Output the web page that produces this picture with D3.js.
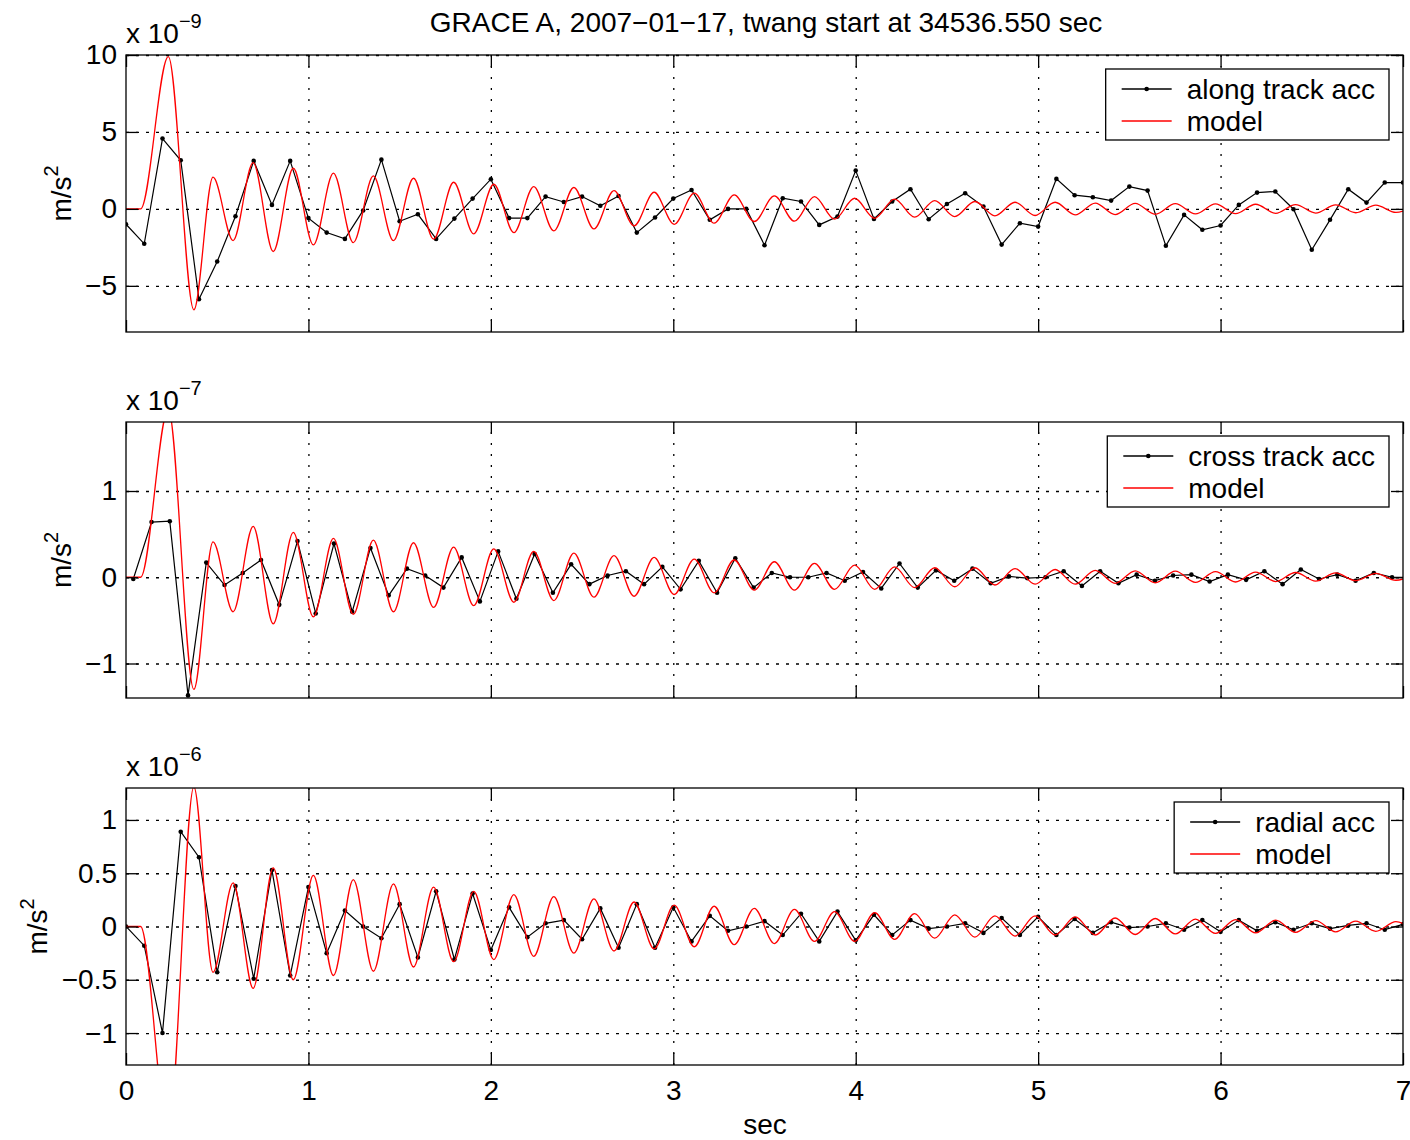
<!DOCTYPE html>
<html>
<head>
<meta charset="utf-8">
<script src="https://cdn.jsdelivr.net/npm/d3@7"></script>
<style>
  body { margin: 0; background: #fff; }
  text { font-family: "Liberation Sans", Arial, Helvetica, sans-serif; fill: #000; }
</style>
</head>
<body>
<svg id="chart" width="1410" height="1140"></svg>
<script>
// sample times of the accelerometer data (sec)
let sampleTimes = [0, 0.1, 0.2, 0.3, 0.4, 0.5, 0.6, 0.7, 0.8, 0.9,
  1.0, 1.1, 1.2, 1.3, 1.4, 1.5, 1.6, 1.7, 1.8, 1.9,
  2.0, 2.1, 2.2, 2.3, 2.4, 2.5, 2.6, 2.7, 2.8, 2.9,
  3.0, 3.1, 3.2, 3.3, 3.4, 3.5, 3.6, 3.7, 3.8, 3.9,
  4.0, 4.1, 4.2, 4.3, 4.4, 4.5, 4.6, 4.7, 4.8, 4.9,
  5.0, 5.1, 5.2, 5.3, 5.4, 5.5, 5.6, 5.7, 5.8, 5.9,
  6.0, 6.1, 6.2, 6.3, 6.4, 6.5, 6.6, 6.7, 6.8, 6.9, 7.0]
// cross track samples are offset a little
let crossTimes = [0.04, 0.14, 0.24, 0.34, 0.44, 0.54, 0.64, 0.74, 0.84, 0.94,
  1.04, 1.14, 1.24, 1.34, 1.44, 1.54, 1.64, 1.74, 1.84, 1.94,
  2.04, 2.14, 2.24, 2.34, 2.44, 2.54, 2.64, 2.74, 2.84, 2.94,
  3.04, 3.14, 3.24, 3.34, 3.44, 3.54, 3.64, 3.74, 3.84, 3.94,
  4.04, 4.14, 4.24, 4.34, 4.44, 4.54, 4.64, 4.74, 4.84, 4.94,
  5.04, 5.14, 5.24, 5.34, 5.44, 5.54, 5.64, 5.74, 5.84, 5.94,
  6.04, 6.14, 6.24, 6.34, 6.44, 6.54, 6.64, 6.74, 6.84, 6.94, 7.04]

// along track acc, x 1e-9 m/s^2
let alongAcc = [-1.0, -2.27, 4.57, 3.16, -5.87, -3.42, -0.48, 3.12, 0.26, 3.12,
  -0.6, -1.54, -1.95, -0.1, 3.2, -0.8, -0.35, -1.95, -0.63, 0.67,
  1.93, -0.6, -0.6, 0.8, 0.45, 0.8, 0.2, 0.84, -1.54, -0.56,
  0.67, 1.23, -0.71, 0, 0, -2.36, 0.69, 0.48, -1.04, -0.5,
  2.49, -0.65, 0.48, 1.28, -0.67, 0.32, 1.02, 0.15, -2.32, -0.93,
  -1.15, 1.95, 0.89, 0.76, 0.54, 1.45, 1.19, -2.4, -0.39, -1.36,
  -1.08, 0.26, 1.06, 1.13, -0.02, -2.66, -0.71, 1.28, 0.41, 1.71, 1.71]
// cross track acc, x 1e-7 m/s^2
let crossAcc = [-0.02, 0.64, 0.65, -1.37, 0.17, -0.09, 0.05, 0.20, -0.32, 0.42,
  -0.42, 0.39, -0.40, 0.34, -0.21, 0.10, 0.02, -0.12, 0.23, -0.28,
  0.30, -0.25, 0.27, -0.18, 0.15, -0.08, 0.02, 0.07, -0.08, 0.12,
  -0.14, 0.19, -0.18, 0.22, -0.12, 0.05, 0.00, 0.00, 0.05, -0.04,
  0.06, -0.13, 0.16, -0.12, 0.08, -0.04, 0.10, -0.07, 0.01, -0.01,
  0.00, 0.07, -0.10, 0.07, -0.07, 0.03, -0.04, 0.02, 0.03, -0.05,
  0.03, -0.03, 0.07, -0.08, 0.09, -0.02, 0.03, -0.04, 0.05, 0.00, 0.00]
// radial acc, x 1e-6 m/s^2
let radialAcc = [0.0, -0.18, -1.0, 0.89, 0.65, -0.43, 0.38, -0.49, 0.53, -0.46,
  0.37, -0.25, 0.15, 0.0, -0.11, 0.21, -0.29, 0.33, -0.31, 0.31,
  -0.22, 0.18, -0.10, 0.03, 0.06, -0.12, 0.17, -0.20, 0.21, -0.20,
  0.18, -0.14, 0.10, -0.04, 0.00, 0.05, -0.08, 0.12, -0.14, 0.14,
  -0.13, 0.11, -0.08, 0.06, -0.02, 0.0, 0.03, -0.06, 0.08, -0.08,
  0.09, -0.08, 0.07, -0.06, 0.04, -0.01, 0.0, 0.03, -0.03, 0.06,
  -0.05, 0.06, -0.04, 0.04, -0.03, 0.03, -0.02, 0.01, 0.03, -0.03, 0.02]

// model curve, read at its turning points (sec)
let modelTimes = [0, 0.08, 0.232, 0.372, 0.477, 0.587, 0.697, 0.807, 0.917, 1.027,
  1.137, 1.246, 1.356, 1.466, 1.576, 1.686, 1.796, 1.906, 2.016, 2.126,
  2.235, 2.345, 2.455, 2.565, 2.675, 2.785, 2.895, 3.005, 3.115, 3.224,
  3.334, 3.444, 3.554, 3.664, 3.774, 3.884, 3.994, 4.104, 4.213, 4.323,
  4.433, 4.543, 4.653, 4.763, 4.873, 4.983, 5.093, 5.203, 5.313, 5.422,
  5.532, 5.642, 5.752, 5.862, 5.972, 6.082, 6.192, 6.302, 6.411, 6.521,
  6.631, 6.741, 6.851, 6.961, 7.071]
let alongModel = [0, 0, 9.89, -6.56, 2.06, -2.06, 3.0, -2.77, 2.64, -2.34,
  2.32, -2.19, 2.14, -2.06, 1.99, -1.97, 1.73, -1.62, 1.60, -1.54,
  1.45, -1.43, 1.39, -1.30, 1.19, -1.10, 1.08, -1.0, 1.02, -0.93,
  0.91, -0.82, 0.84, -0.80, 0.80, -0.67, 0.69, -0.61, 0.63, -0.54,
  0.54, -0.50, 0.48, -0.45, 0.43, -0.43, 0.43, -0.39, 0.38, -0.37,
  0.36, -0.35, 0.34, -0.33, 0.32, -0.31, 0.30, -0.29, 0.28, -0.27,
  0.26, -0.25, 0.24, -0.23, 0.22]
let crossModel = [0, 0, 1.95, -1.30, 0.41, -0.40, 0.59, -0.54, 0.52, -0.46,
  0.45, -0.43, 0.43, -0.40, 0.40, -0.35, 0.35, -0.33, 0.33, -0.29,
  0.30, -0.27, 0.28, -0.23, 0.25, -0.22, 0.23, -0.20, 0.21, -0.18,
  0.20, -0.15, 0.18, -0.15, 0.16, -0.14, 0.14, -0.14, 0.12, -0.12,
  0.11, -0.11, 0.11, -0.09, 0.10, -0.08, 0.09, -0.08, 0.08, -0.07,
  0.075, -0.065, 0.07, -0.06, 0.065, -0.055, 0.06, -0.05, 0.055, -0.045,
  0.05, -0.04, 0.045, -0.035, 0.04]
let radialModel = [0, 0, -1.95, 1.31, -0.43, 0.41, -0.58, 0.55, -0.50, 0.48,
  -0.46, 0.44, -0.42, 0.40, -0.38, 0.37, -0.33, 0.33, -0.31, 0.30,
  -0.28, 0.28, -0.25, 0.26, -0.23, 0.23, -0.21, 0.20, -0.19, 0.19,
  -0.17, 0.17, -0.16, 0.16, -0.14, 0.14, -0.14, 0.13, -0.12, 0.12,
  -0.11, 0.11, -0.10, 0.10, -0.09, 0.10, -0.08, 0.09, -0.08, 0.08,
  -0.075, 0.075, -0.07, 0.07, -0.065, 0.065, -0.06, 0.06, -0.055, 0.055,
  -0.05, 0.05, -0.045, 0.045, -0.04]

let xTicks = [0, 1, 2, 3, 4, 5, 6, 7]
let alongTicks = [-5, 0, 5, 10]
let crossTicks = [-1, 0, 1]
let radialTicks = [-1, -0.5, 0, 0.5, 1]

let title = "GRACE A, 2007\u221201\u221217, twang start at 34536.550 sec"

let margin = {left: 126, right: 1403}
let panels = [
  {label: "along track acc", t: sampleTimes, v: alongAcc, m: alongModel,
   domain: [-8, 10], ticks: alongTicks, exp: "\u22129", top: 55, bottom: 332, ylabX: 71},
  {label: "cross track acc", t: crossTimes, v: crossAcc, m: crossModel,
   domain: [-1.4, 1.8], ticks: crossTicks, exp: "\u22127", top: 422, bottom: 698, ylabX: 71},
  {label: "radial acc", t: sampleTimes, v: radialAcc, m: radialModel,
   domain: [-1.3, 1.3], ticks: radialTicks, exp: "\u22126", top: 788, bottom: 1065, ylabX: 47}
]

let svg = d3.select("#chart")
let x = d3.scaleLinear().domain([0, 7]).range([margin.left, margin.right])
let fs = 28
let numberFormat = d3.format("")

function styleGrid(g, dash) {
  g.select(".domain").remove()
  g.selectAll("line")
    .attr("stroke", "#000")
    .attr("stroke-width", 1.3)
    .attr("stroke-dasharray", dash)
  g.selectAll("text").remove()
}

function drawPanel(p, i) {
  let g = svg.append("g")
  let y = d3.scaleLinear().domain(p.domain).range([p.bottom, p.top])
  let h = p.bottom - p.top

  g.append("clipPath").attr("id", "clip" + i)
    .append("rect")
    .attr("x", margin.left).attr("y", p.top)
    .attr("width", margin.right - margin.left).attr("height", h)

  // grid
  g.append("g")
    .attr("transform", `translate(0, ${p.bottom})`)
    .call(d3.axisBottom(x).tickValues(xTicks.slice(1, -1)).tickSize(-h))
    .call(s => styleGrid(s, "2,9"))
  g.append("g")
    .attr("transform", `translate(${margin.left}, 0)`)
    .call(d3.axisLeft(y).tickValues(p.ticks).tickSize(-(margin.right - margin.left)))
    .call(s => styleGrid(s, "3,7"))

  let plot = g.append("g").attr("clip-path", `url(#clip${i})`)
  let data = p.t.map((t, j) => ({t: t, v: p.v[j]}))
  let model = modelTimes.map((t, j) => ({t: t, v: p.m[j]}))

  plot.append("path")
    .datum(data)
    .attr("d", d3.line().x(d => x(d.t)).y(d => y(d.v)))
    .attr("fill", "none")
    .attr("stroke", "#000")
    .attr("stroke-width", 1.2)
  plot.selectAll("circle")
    .data(data).enter()
    .append("circle")
    .attr("cx", d => x(d.t))
    .attr("cy", d => y(d.v))
    .attr("r", 2.3)
    .attr("fill", "#000")
  plot.append("path")
    .datum(model)
    .attr("d", d3.line().curve(d3.curveMonotoneX).x(d => x(d.t)).y(d => y(d.v)))
    .attr("fill", "none")
    .attr("stroke", "#ff0000")
    .attr("stroke-width", 1.3)

  // box + inward ticks
  let tk = 12
  let axes = [
    {a: d3.axisBottom(x).tickValues(xTicks), tr: `translate(0, ${p.bottom})`, lab: i == 2},
    {a: d3.axisTop(x).tickValues(xTicks), tr: `translate(0, ${p.top})`, lab: false},
    {a: d3.axisLeft(y).tickValues(p.ticks), tr: `translate(${margin.left}, 0)`, lab: true},
    {a: d3.axisRight(y).tickValues(p.ticks), tr: `translate(${margin.right}, 0)`, lab: false}
  ]
  axes.forEach((ax, k) => {
    let a = ax.a.tickSize(-tk).tickPadding(k == 0 ? 15 : 9)
      .tickFormat(ax.lab ? numberFormat : "")
    let s = g.append("g").attr("transform", ax.tr).call(a)
    s.select(".domain").remove()
    s.selectAll("line").attr("stroke", "#000").attr("stroke-width", 1.3)
    s.selectAll("text").attr("font-size", fs).style("font-family", '"Liberation Sans", Arial, sans-serif')
  })
  g.append("rect")
    .attr("x", margin.left).attr("y", p.top)
    .attr("width", margin.right - margin.left).attr("height", h)
    .attr("fill", "none").attr("stroke", "#000").attr("stroke-width", 1.3)

  // exponent label
  let ex = g.append("text")
    .attr("x", margin.left).attr("y", p.top - 12)
    .attr("font-size", fs)
  ex.append("tspan").text("x 10")
  ex.append("tspan").attr("dy", -15).attr("font-size", 20).text(p.exp)

  // y label
  let yl = g.append("text")
    .attr("transform", `translate(${p.ylabX}, ${(p.top + p.bottom) / 2}) rotate(-90)`)
    .attr("text-anchor", "middle")
    .attr("font-size", fs)
  yl.append("tspan").text("m/s")
  yl.append("tspan").attr("dy", -13).attr("font-size", 20).text("2")

  // legend
  let lg = g.append("g")
  let box = lg.append("rect")
    .attr("fill", "#fff").attr("stroke", "#000").attr("stroke-width", 1.3)
  let rows = [{name: p.label, color: "#000", dot: true}, {name: "model", color: "#ff0000", dot: false}]
  let texts = rows.map((r, k) => lg.append("text")
    .attr("y", 20 + 32 * k).attr("dy", "0.35em")
    .attr("font-size", fs).text(r.name))
  let tw = d3.max(texts, t => t.node().getComputedTextLength())
  let bw = 16 + 50 + 15 + tw + 14
  let bx = margin.right - 14 - bw, by = p.top + 14
  lg.attr("transform", `translate(${bx}, ${by})`)
  box.attr("width", bw).attr("height", 71)
  texts.forEach(t => t.attr("x", 81))
  rows.forEach((r, k) => {
    lg.append("line")
      .attr("x1", 16).attr("x2", 66)
      .attr("y1", 20 + 32 * k).attr("y2", 20 + 32 * k)
      .attr("stroke", r.color).attr("stroke-width", 1.3)
    if (r.dot) lg.append("circle").attr("cx", 41).attr("cy", 20 + 32 * k).attr("r", 2.3).attr("fill", "#000")
  })
}

panels.forEach(drawPanel)

svg.append("text")
  .attr("x", 766).attr("y", 32)
  .attr("text-anchor", "middle")
  .attr("font-size", fs)
  .text(title)

svg.append("text")
  .attr("x", 765).attr("y", 1134)
  .attr("text-anchor", "middle")
  .attr("font-size", fs)
  .text("sec")
</script>
</body>
</html>
